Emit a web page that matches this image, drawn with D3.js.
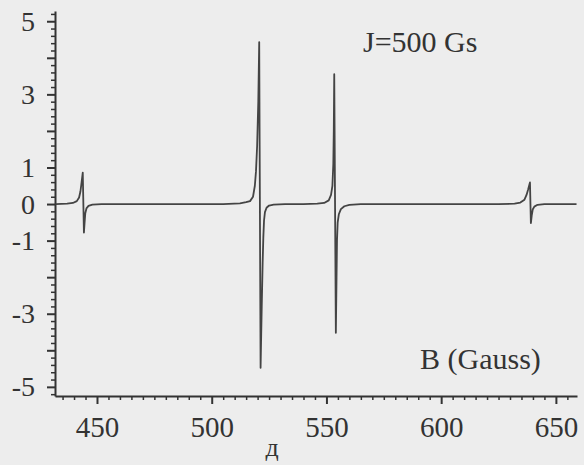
<!DOCTYPE html>
<html>
<head>
<meta charset="utf-8">
<script src="https://cdn.jsdelivr.net/npm/d3@7"></script>
<style>
  body { margin: 0; background: #ededed; }
  svg { display: block; }
  .axis path, .axis line { stroke: #333; }
  .axis text { font-family: "Liberation Serif", serif; fill: #333; }
</style>
</head>
<body>
<div class="chart"></div>
<script>

// tick labels
var X_LABELS = [450, 500, 550, 600, 650];
var Y_LABELS = [5, 3, 1, 0, -1, -3, -5];

// spectrum (field in Gauss, signal)
var LINE_1 = [
	[432, 0], [437, 0.01], [439.5, 0.03], [441.2, 0.08], [442.2, 0.18], [442.8, 0.35],
	[443.3, 0.6], [443.8, 0.86], [444.3, -0.78], [444.6, -0.5], [444.9, -0.25],
	[445.4, -0.12], [446.3, -0.05], [448, -0.015], [452, 0]
];
var LINE_2 = [
	[505, 0], [512.3, 0.02], [515, 0.05], [516.7, 0.08], [518, 0.2], [518.8, 0.5],
	[519.3, 0.9], [519.8, 1.6], [520.3, 2.8], [520.7, 4.43], [521.3, -4.48],
	[521.8, -2.8], [522.2, -1.6], [522.5, -0.9], [522.8, -0.45], [523.2, -0.22],
	[523.9, -0.1], [525, -0.04], [527, -0.015], [532, 0]
];
var LINE_3 = [
	[540, 0], [546, 0.01], [549, 0.03], [551, 0.1], [552, 0.25], [552.6, 0.5],
	[553, 1.1], [553.2, 2.0], [553.4, 3.55], [554.1, -3.52], [554.4, -2.0],
	[554.6, -1.0], [554.9, -0.5], [555.4, -0.28], [556.3, -0.14], [557.8, -0.06],
	[560, -0.02], [565, 0]
];
var LINE_4 = [
	[625, 0], [632, 0.01], [634.5, 0.04], [636.3, 0.12], [637.2, 0.25], [637.9, 0.4],
	[638.7, 0.59], [639.1, -0.52], [639.5, -0.3], [639.9, -0.15], [640.6, -0.07],
	[642, -0.02], [645, 0], [659, 0]
];

var spectrum = [].concat(LINE_1, LINE_2, LINE_3, LINE_4);

var W = 584, H = 465;

var x = d3.scaleLinear()
	.domain([431.7, 659.2])
	.range([55, 577]);

var y = d3.scaleLinear()
	.domain([-5.25, 5.28])
	.range([396, 11]);

var svg = d3.select(".chart").append("svg")
	.attr("width", W)
	.attr("height", H);

svg.append("rect")
	.attr("width", W)
	.attr("height", H)
	.attr("fill", "#ededed");

// minor ticks
var xMinor = d3.range(435, 660, 5).filter(function (v) { return v % 50 !== 0; });
var yMinor = d3.range(-26, 27).map(function (i) { return i / 5; })
	.filter(function (v) { return Math.abs(v - Math.round(v)) > 0.01; });

svg.append("g")
	.attr("class", "axis")
	.attr("transform", "translate(0,396)")
	.call(d3.axisBottom(x).tickValues(xMinor).tickSize(4).tickFormat("").tickSizeOuter(0))
	.call(function (g) { g.select(".domain").remove(); })
	.selectAll("line").attr("stroke-width", 1.5);

svg.append("g")
	.attr("class", "axis")
	.attr("transform", "translate(55,0)")
	.call(d3.axisLeft(y).tickValues(yMinor).tickSize(4).tickFormat("").tickSizeOuter(0))
	.call(function (g) { g.select(".domain").remove(); })
	.selectAll("line").attr("stroke-width", 1.5);

// major ticks + labels
var xAxis = svg.append("g")
	.attr("class", "axis")
	.attr("transform", "translate(0,396)")
	.call(d3.axisBottom(x).tickValues(X_LABELS).tickSize(8).tickSizeOuter(0).tickPadding(12));
xAxis.select(".domain").attr("stroke-width", 2);
xAxis.selectAll("line").attr("stroke-width", 2);
xAxis.selectAll("text").attr("font-size", 29);

var yAxis = svg.append("g")
	.attr("class", "axis")
	.attr("transform", "translate(55,0)")
	.call(d3.axisLeft(y).tickValues(d3.range(-5, 6)).tickSize(8).tickSizeOuter(0).tickPadding(12)
		.tickFormat(function (d) { return Y_LABELS.indexOf(d) >= 0 ? d : ""; }));
yAxis.select(".domain").attr("stroke-width", 2);
yAxis.selectAll("line").attr("stroke-width", 2);
yAxis.selectAll("text").attr("font-size", 28);

// the spectrum
var line = d3.line()
	.x(function (d) { return x(d[0]); })
	.y(function (d) { return y(d[1]); });

svg.append("path")
	.datum(spectrum)
	.attr("d", line)
	.attr("fill", "none")
	.attr("stroke", "#444")
	.attr("stroke-width", 1.8)
	.attr("stroke-linejoin", "round");

// annotations
svg.append("text")
	.attr("x", 363).attr("y", 52)
	.attr("font-family", "Liberation Serif, serif")
	.attr("font-size", 30)
	.attr("fill", "#333")
	.text("J=500 Gs");

svg.append("text")
	.attr("x", 420).attr("y", 369)
	.attr("font-family", "Liberation Serif, serif")
	.attr("font-size", 30)
	.attr("fill", "#333")
	.text("B (Gauss)");

svg.append("text")
	.attr("x", 272).attr("y", 456)
	.attr("text-anchor", "middle")
	.attr("font-family", "Liberation Serif, serif")
	.attr("font-size", 26)
	.attr("fill", "#333")
	.text("д");

</script>
</body>
</html>
